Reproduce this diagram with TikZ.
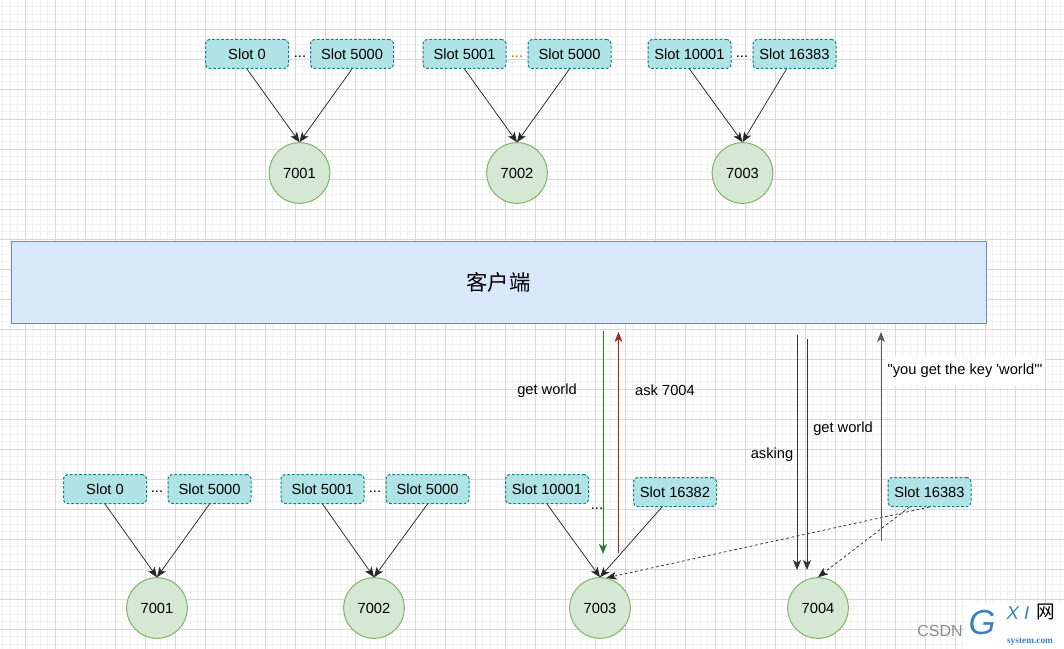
\documentclass[tikz,border=0pt]{standalone}
\usepackage{fontspec}
\setmainfont{Liberation Sans}
\newfontfamily\cjk{Noto Sans CJK SC}
\newfontfamily\wmserif{Liberation Serif}
\usetikzlibrary{arrows.meta,calc}
\definecolor{slotfill}{HTML}{B0E3E6}
\definecolor{slotdraw}{HTML}{0E8088}
\definecolor{nodefill}{HTML}{D5E8D4}
\definecolor{nodedraw}{HTML}{82B366}
\definecolor{clifill}{HTML}{DAE8FC}
\definecolor{clidraw}{HTML}{6C8EBF}
\definecolor{gridmaj}{HTML}{D9D9D9}
\definecolor{gridmin}{HTML}{F1F1F1}
\definecolor{okgreen}{HTML}{2E7D32}
\definecolor{askred}{HTML}{9C2B2B}
\definecolor{dotorange}{HTML}{C8640A}
\definecolor{wmblue}{HTML}{3B82C4}
\begin{document}
\begin{tikzpicture}[x=0.75pt,y=-0.75pt,
  font=\fontsize{11}{13}\selectfont,
  tip/.tip={Stealth[length=7.5pt,width=6pt,inset=2pt]},
  slotbox/.style={draw=slotdraw, fill=slotfill, dash pattern=on 2pt off 1.5pt,
    rounded corners=3pt, minimum width=62.25pt, minimum height=21.75pt,
    inner sep=0pt, line width=0.75pt},
  server/.style={circle, draw=nodedraw, fill=nodefill, minimum size=45.5pt,
    inner sep=0pt, line width=0.75pt},
  link/.style={draw=black!85, line width=0.55pt, -tip},
  dlink/.style={link, dash pattern=on 2pt off 2pt},
  vlink/.style={draw=black!80, line width=0.7pt, -tip},
  dots/.style={inner sep=0pt},
  lbl/.style={inner sep=0pt},
  gmin/.style={draw=gridmin, line width=0.6pt},
  gmaj/.style={draw=gridmaj, line width=0.75pt}
]
\useasboundingbox (0,0) rectangle (1064,649);
\fill[white] (0,0) rectangle (1064,649);
% grid
\foreach \i in {0,...,141} \draw[gmin] ({2.5+7.5*\i},0) -- ({2.5+7.5*\i},649);
\foreach \i in {1,...,86} \draw[gmin] (0,{-0.7+7.5*\i}) -- (1064,{-0.7+7.5*\i});
\foreach \i in {0,...,34} \draw[gmaj] ({25+30*\i},0) -- ({25+30*\i},649);
\foreach \i in {1,...,21} \draw[gmaj] (0,{-0.7+30*\i}) -- (1064,{-0.7+30*\i});

% top row
\node[slotbox] (s1a) at (247,54) {Slot 0};
\node[slotbox] (s1b) at (352,54) {Slot 5000};
\node[dots] (d1) at (300,57) {...};
\node[slotbox] (s2a) at (464.5,54) {Slot 5001};
\node[slotbox] (s2b) at (569.5,54) {Slot 5000};
\node[dots, text=dotorange] (d2) at (517,57) {...};
\node[slotbox] (s3a) at (689.5,54) {Slot 10001};
\node[slotbox] (s3b) at (794.5,54) {Slot 16383};
\node[dots] (d3) at (742,57) {...};
\node[server] (c1) at (299.5,173) {7001};
\node[server] (c2) at (517,173) {7002};
\node[server] (c3) at (742.5,173) {7003};
\draw[link] (s1a.south) -- (c1.north);
\draw[link] (s1b.south) -- (c1.north);
\draw[link] (s2a.south) -- (c2.north);
\draw[link] (s2b.south) -- (c2.north);
\draw[link] (s3a.south) -- (c3.north);
\draw[link] ($(s3b.south)+(-8,0)$) -- (c3.north);

% client
\node[draw=clidraw, fill=clifill, line width=0.75pt, minimum width=731.25pt,
  minimum height=61.5pt, inner sep=0pt, font=\cjk\fontsize{16}{18}\selectfont]
  (cli) at (498.5,282) {客户端};

% bottom row
\node[slotbox] (b1a) at (105,489) {Slot 0};
\node[slotbox] (b1b) at (209.5,489) {Slot 5000};
\node[dots] (e1d) at (157,492) {...};
\node[slotbox] (b2a) at (322.5,489) {Slot 5001};
\node[slotbox] (b2b) at (427.5,489) {Slot 5000};
\node[dots] (e2d) at (375,492) {...};
\node[slotbox] (b3a) at (547,489) {Slot 10001};
\node[slotbox] (b3b) at (675,492) {Slot 16382};
\node[dots] (e3d) at (597,509) {...};
\node[slotbox] (b4) at (929.5,492) {Slot 16383};
\node[server] (e1) at (157,608) {7001};
\node[server] (e2) at (374,608) {7002};
\node[server] (e3) at (600,608) {7003};
\node[server] (e4) at (818,608) {7004};
\draw[link] (b1a.south) -- (e1.north);
\draw[link] (b1b.south) -- (e1.north);
\draw[link] (b2a.south) -- (e2.north);
\draw[link] (b2b.south) -- (e2.north);
\draw[link] (b3a.south) -- (e3.north);
\draw[link] ($(b3b.south)+(-13,0)$) -- (e3.north);
\draw[dlink] (b4.south) -- (e3.78);
\draw[dlink] ($(b4.south)+(-20,0)$) -- (e4.north);

% request / reply arrows
\coordinate (g1) at (603,331);
\coordinate (g2) at (603,554);
\coordinate (r1) at (618.5,553);
\coordinate (r2) at (618.5,332);
\coordinate (a1) at (797,335);
\coordinate (a2) at (797,570);
\coordinate (w1) at (807,339);
\coordinate (w2) at (807,570);
\coordinate (y1) at (881,541);
\coordinate (y2) at (881,332);
\draw[vlink, draw=okgreen] (g1) -- (g2);
\draw[vlink, draw=askred] (r1) -- (r2);
\draw[vlink] (a1) -- (a2);
\draw[vlink] (w1) -- (w2);
\draw[vlink, draw=black!65] (y1) -- (y2);

\node[lbl] (l1) at (547,391) {get world};
\node[lbl] (l2) at (665,390) {ask 7004};
\node[lbl] (l3) at (772,455) {asking};
\node[lbl] (l4) at (843,429) {get world};
\node[fill=white, inner xsep=2pt, inner ysep=6pt] (l5) at (965,371)
  {\textquotedbl you get the key \textquotesingle world\textquotesingle\textquotedbl};

% watermark
\fill[white] (965,603) rectangle (1064,649);
\node[lbl, text=black!45, font=\fontsize{12}{14}\selectfont] (wm1) at (940,631) {CSDN};
\node[lbl, text=wmblue, font=\fontsize{26}{28}\selectfont\itshape] (wm2) at (982,623) {G};
\node[lbl, text=wmblue, font=\fontsize{14}{16}\selectfont\itshape] (wm3) at (1018,613) {X I};
\node[lbl, text=black, font=\cjk\fontsize{14}{16}\selectfont] (wm4) at (1046,612) {网};
\node[lbl, text=wmblue, font=\wmserif\bfseries\fontsize{7}{8}\selectfont] (wm5) at (1030,642) {system.com};
\end{tikzpicture}
\end{document}
